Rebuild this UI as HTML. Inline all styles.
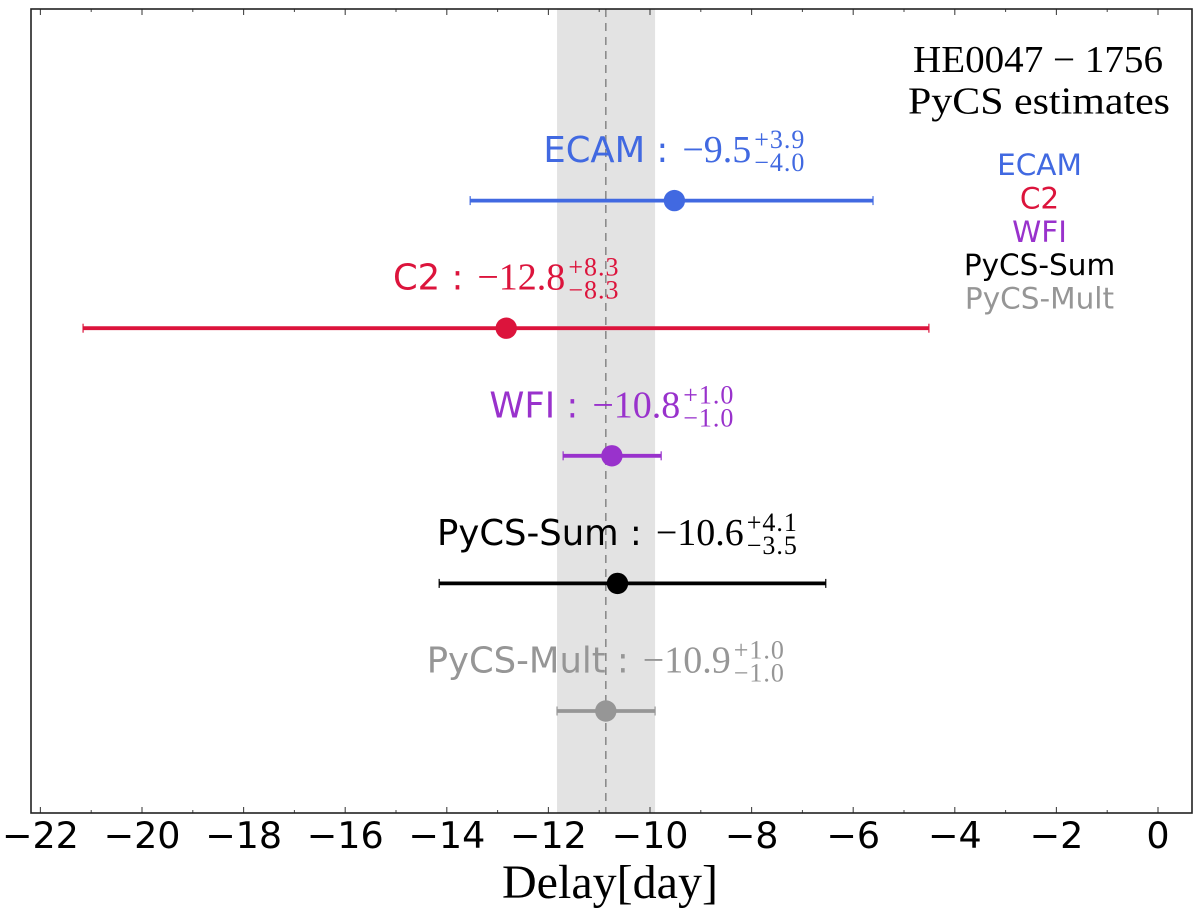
<!DOCTYPE html>
<html>
<head>
<meta charset="utf-8">
<title>HE0047-1756 PyCS estimates</title>
<style>
html,body{margin:0;padding:0;background:#fff;}
svg{display:block;}
.sans{font-family:"DejaVu Sans","Liberation Sans",sans-serif;}
.serif{font-family:"Liberation Serif",serif;}
</style>
</head>
<body>
<svg id="chart" width="1200" height="914" viewBox="0 0 1200 914" xmlns="http://www.w3.org/2000/svg">
  <g id="band-layer"></g>
  <g id="series-layer"></g>
  <g id="tick-layer"></g>
  <rect x="31" y="9" width="1161" height="804" fill="none" stroke="#222" stroke-width="1.6"></rect>
  <text x="913" y="72" textLength="250" lengthAdjust="spacingAndGlyphs" class="serif" font-size="38" fill="#000">HE0047 − 1756</text>
  <text x="908" y="113.5" textLength="262" lengthAdjust="spacingAndGlyphs" class="serif" font-size="38" fill="#000">PyCS estimates</text>
  <text x="502" y="898" textLength="216" lengthAdjust="spacingAndGlyphs" class="serif" font-size="48" fill="#000">Delay[day]</text>
  <g id="legend-layer"></g>
</svg>
<script>
const seriesNames = ['ECAM', 'C2', 'WFI', 'PyCS-Sum', 'PyCS-Mult'];
const seriesColors = ['#4169e1', '#dc143c', '#9932cc', '#000000', '#969696'];
const delayValues = [-9.52, -12.83, -10.75, -10.64, -10.87];
const errorsPlus = [3.91, 8.32, 0.97, 4.10, 0.97];
const errorsMinus = [4.02, 8.33, 0.96, 3.51, 0.96];
const rowValues = [5, 4, 3, 2, 1];
const majorTicks = [-22, -20, -18, -16, -14, -12, -10, -8, -6, -4, -2, 0];
const minorTicks = [-21, -19, -17, -15, -13, -11, -9, -7, -5, -3, -1];
const referenceIndex = 4;

const NS = 'http://www.w3.org/2000/svg';
function xScale(v) { return 1158 + v * 50.8; }
function yScale(r) { return 711 - (r - 1) * 127.6; }
function make(tag, attrs, parent) {
  const el = document.createElementNS(NS, tag);
  for (const k in attrs) el.setAttribute(k, attrs[k]);
  parent.appendChild(el);
  return el;
}
function fmt(v) { return Math.abs(v).toFixed(1); }
function signed(v) { return (v < 0 ? '\u2212' : '') + fmt(v); }

const bandLayer = document.getElementById('band-layer');
const seriesLayer = document.getElementById('series-layer');
const tickLayer = document.getElementById('tick-layer');
const legendLayer = document.getElementById('legend-layer');

/* reference band and dashed line */
const refValue = delayValues[referenceIndex];
const bandL = xScale(refValue - errorsMinus[referenceIndex]);
const bandR = xScale(refValue + errorsPlus[referenceIndex]);
const band = make('rect', {x: bandL, y: 9, width: bandR - bandL, height: 804, fill: '#e3e3e3'}, bandLayer);


const refLine = make('line', {x1: xScale(refValue), x2: xScale(refValue), y1: 9, y2: 813, stroke: '#8c8c8c', 'stroke-width': 1.6, 'stroke-dasharray': '8 6'}, bandLayer);



/* ticks */
majorTicks.forEach(function (t) {
  const px = xScale(t);
  const b = make('line', {x1: px, x2: px, y1: 807, y2: 813, stroke: '#444', 'stroke-width': 1.1}, tickLayer);
  
  
  const u = make('line', {x1: px, x2: px, y1: 9, y2: 15, stroke: '#444', 'stroke-width': 1.1}, tickLayer);
  
  
  const lab = make('text', {x: px, y: 848, 'text-anchor': 'middle', 'font-size': 36.5, fill: '#000', 'class': 'sans'}, tickLayer);
  
  
  lab.textContent = t < 0 ? '\u2212' + Math.abs(t) : String(t);
});
minorTicks.forEach(function (t) {
  const px = xScale(t);
  const b = make('line', {x1: px, x2: px, y1: 810, y2: 813, stroke: '#444', 'stroke-width': 1}, tickLayer);
  
  
  const u = make('line', {x1: px, x2: px, y1: 9, y2: 12, stroke: '#444', 'stroke-width': 1}, tickLayer);
  
  
});

/* series */
seriesNames.forEach(function (name, i) {
  const col = seriesColors[i];
  const v = delayValues[i];
  const y = yScale(rowValues[i]);
  const cx = xScale(v);
  const xl = xScale(v - errorsMinus[i]);
  const xr = xScale(v + errorsPlus[i]);

  const bar = make('line', {x1: xl, x2: xr, y1: y, y2: y, stroke: col, 'stroke-width': 3.8}, seriesLayer);
  
  
  [xl, xr].forEach(function (cap) {
    const c = make('line', {x1: cap, x2: cap, y1: y - 4.5, y2: y + 4.5, stroke: col, 'stroke-width': 1.2}, seriesLayer);
    
    
  });
  const pt = make('circle', {cx: cx, cy: y, r: 10.7, fill: col}, seriesLayer);
  
  

  /* annotation: "NAME : value^{+a}_{-b}" centered over the point */
  const base = y - 38.5;
  const t1 = make('text', {y: base, 'font-size': 35.4, fill: col, 'class': 'sans'}, seriesLayer);
  
  
  t1.textContent = name + ' :';
  const t2 = make('text', {y: base, 'font-size': 38, fill: col, 'class': 'serif'}, seriesLayer);
  
  
  t2.textContent = signed(v);
  const t3 = make('text', {y: base - 14, 'font-size': 26, 'letter-spacing': 1, fill: col, 'class': 'serif'}, seriesLayer);
  
  
  t3.textContent = '+' + fmt(errorsPlus[i]);
  const t4 = make('text', {y: base + 9, 'font-size': 26, 'letter-spacing': 1, fill: col, 'class': 'serif'}, seriesLayer);
  
  
  t4.textContent = '\u2212' + fmt(errorsMinus[i]);

  const w1 = t1.getComputedTextLength();
  const w2 = t2.getComputedTextLength();
  const w3 = t3.getComputedTextLength();
  const w4 = t4.getComputedTextLength();
  const gap = 14;
  const supGap = 3;
  const sw = Math.max(w3, w4);
  const total = w1 + gap + w2 + supGap + sw;
  const start = cx - total / 2;
  t1.setAttribute('x', start);
  t2.setAttribute('x', start + w1 + gap);
  t3.setAttribute('x', start + total - w3);
  t4.setAttribute('x', start + total - w4);

  /* legend */
  const leg = make('text', {x: 1039.5, y: 175 + i * 33.4, 'text-anchor': 'middle', 'font-size': 29.5, fill: col, 'class': 'sans'}, legendLayer);
  
  
  leg.textContent = name;
});
</script>
</body>
</html>
